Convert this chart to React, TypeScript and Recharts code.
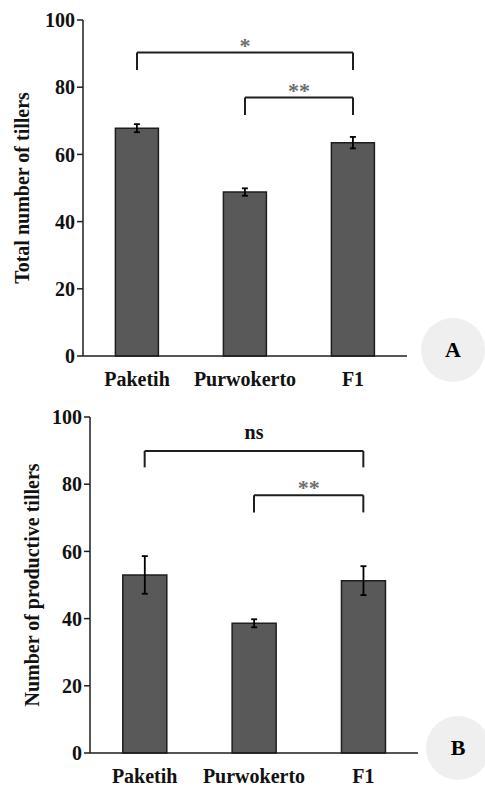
import React from "react";
import { BarChart, Bar, XAxis, YAxis, ErrorBar, ReferenceLine } from "recharts";

const categories = ["Paketih", "Purwokerto", "F1"];
const totalTillers = [67.8, 48.8, 63.5];
const totalTillersErr = [1.2, 1.1, 1.7];
const productiveTillers = [53.0, 38.6, 51.3];
const productiveTillersErr = [5.6, 1.2, 4.3];
const yTicks = [0, 20, 40, 60, 80, 100];

// significance brackets: bar pair, height of the bar, height of the feet
const bracketsA = [
  { from: "Paketih", to: "F1", top: 90.3, foot: 85.1, label: "*" },
  { from: "Purwokerto", to: "F1", top: 76.9, foot: 71.7, label: "**" },
];
const bracketsB = [
  { from: "Paketih", to: "F1", top: 89.9, foot: 85.0, label: "ns" },
  { from: "Purwokerto", to: "F1", top: 76.7, foot: 71.6, label: "**" },
];

type Bracket = { from: string; to: string; top: number; foot: number; label: string };

const serif = '"Liberation Serif", "Times New Roman", serif';
const ink = "#1e1e1e";

interface PanelProps {
  values: number[];
  errors: number[];
  brackets: Bracket[];
  title: string;
  tag: string;
  top: number;
  height: number;
  axisWidth: number;
  rightMargin: number;
  topMargin: number;
  titleX: number;
  tagX: number;
  tagY: number;
}

function Panel(p: PanelProps) {
  const data = categories.map((name, i) => ({ name, value: p.values[i], err: p.errors[i] }));
  const xAxisHeight = 34;
  const midY = p.topMargin + (p.height - p.topMargin - xAxisHeight) / 2;

  return (
    <div style={{ position: "absolute", left: 0, top: p.top, width: 485, height: p.height }}>
      <div
        style={{
          position: "absolute",
          left: p.tagX - 32,
          top: p.tagY - 32,
          width: 64,
          height: 64,
          borderRadius: "50%",
          background: "#efefef",
          display: "flex",
          alignItems: "center",
          justifyContent: "center",
          fontFamily: serif,
          fontWeight: "bold",
          fontSize: 22,
          color: "#000",
        }}
      >
        {p.tag}
      </div>
      <BarChart
        width={485}
        height={p.height}
        data={data}
        margin={{ top: p.topMargin, right: p.rightMargin, left: 0, bottom: 0 }}
        barCategoryGap="30%"
        style={{ position: "absolute", left: 0, top: 0 }}
      >
        <XAxis
          dataKey="name"
          height={xAxisHeight}
          tickLine={false}
          tickSize={6}
          tickMargin={10}
          axisLine={{ stroke: ink, strokeWidth: 1.5 }}
          tick={{ fill: "#111", fontSize: 20, fontWeight: "bold", fontFamily: serif }}
          interval={0}
        />
        <YAxis
          width={p.axisWidth}
          domain={[0, 100]}
          ticks={yTicks}
          interval={0}
          axisLine={{ stroke: ink, strokeWidth: 1.5 }}
          tickLine={{ stroke: ink, strokeWidth: 1.5 }}
          tick={{ fill: "#111", fontSize: 20, fontWeight: "bold", fontFamily: serif }}
          label={() => (
            <text
              x={p.titleX}
              y={midY}
              transform={`rotate(-90 ${p.titleX} ${midY})`}
              textAnchor="middle"
              dominantBaseline="central"
              fontFamily={serif}
              fontWeight="bold"
              fontSize={20}
              fill="#111"
            >
              {p.title}
            </text>
          )}
        />
        <Bar dataKey="value" fill="#595959" stroke={ink} strokeWidth={1.5} isAnimationActive={false}>
          <ErrorBar dataKey="err" width={3} stroke="#000" strokeWidth={1.8} direction="y" />
        </Bar>
        {p.brackets.map((b) => (
          <ReferenceLine
            key={b.from + "-h"}
            segment={[
              { x: b.from, y: b.top },
              { x: b.to, y: b.top },
            ]}
            stroke={ink}
            strokeWidth={2}
            label={{
              value: b.label,
              position: "top",
              offset: b.label === "ns" ? 12 : 0,
              fill: b.label === "ns" ? "#111" : "#6e6e6e",
              fontSize: b.label === "ns" ? 20 : 22,
              fontWeight: "bold",
              fontFamily: serif,
            }}
          />
        ))}
        {p.brackets.flatMap((b) =>
          [b.from, b.to].map((c) => (
            <ReferenceLine
              key={b.from + b.to + c}
              segment={[
                { x: c, y: b.top },
                { x: c, y: b.foot },
              ]}
              stroke={ink}
              strokeWidth={2}
            />
          ))
        )}
      </BarChart>
    </div>
  );
}

export default function App() {
  return (
    <div style={{ position: "absolute", left: 0, top: 0, width: 485, height: 787, background: "#fff" }}>
      <Panel
        values={totalTillers}
        errors={totalTillersErr}
        brackets={bracketsA}
        title="Total number of tillers"
        tag="A"
        top={0}
        height={390}
        axisWidth={83}
        rightMargin={78}
        topMargin={20}
        titleX={22}
        tagX={453}
        tagY={350}
      />
      <Panel
        values={productiveTillers}
        errors={productiveTillersErr}
        brackets={bracketsB}
        title="Number of productive tillers"
        tag="B"
        top={390}
        height={397}
        axisWidth={90}
        rightMargin={67}
        topMargin={27}
        titleX={32}
        tagX={458}
        tagY={358}
      />
    </div>
  );
}
